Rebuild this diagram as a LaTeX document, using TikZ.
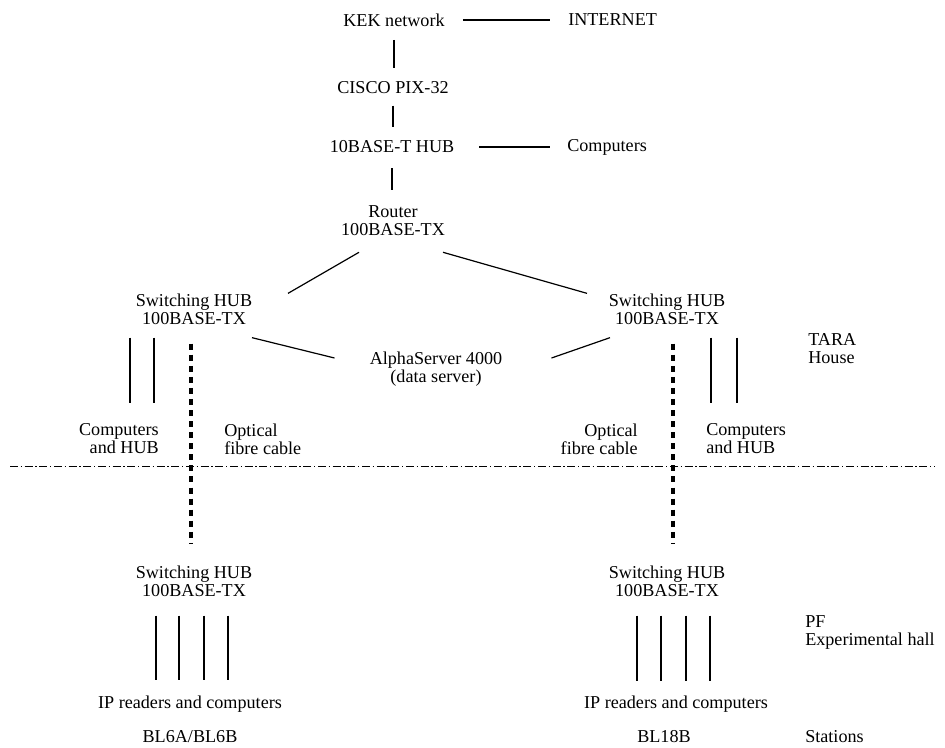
\documentclass[tikz,border=0pt]{standalone}
\usepackage{fontspec}
\setmainfont{Liberation Serif}
\usetikzlibrary{calc}
\tikzset{
  lbl/.style={inner sep=0pt,align=center,font=\fontsize{13.6}{13.5}\selectfont},
  wire/.style={line width=0.9pt},
  fibre/.style={line width=2.4pt,dash pattern=on 4.5pt off 3.8pt},
  border/.style={line width=0.6pt,dash pattern=on 6pt off 2pt on 1pt off 2pt}
}
\begin{document}
\begin{tikzpicture}[x=0.75pt,y=-0.75pt]
		\useasboundingbox (0,0) rectangle (945,747);
		% TARA House
		\node[lbl] (kek) at (394,20) {KEK network};
		\node[lbl,anchor=west] (inet) at (568,20) {INTERNET};
		\node[lbl] (cisco) at (393,88) {CISCO PIX-32};
		\node[lbl] (hubT) at (392,147) {10BASE-T HUB};
		\node[lbl,anchor=west] (comp) at (567,147) {Computers};
		\node[lbl] (router) at (393,221) {Router\\100BASE-TX};
		\node[lbl] (swL) at (194,309) {Switching HUB\\100BASE-TX};
		\node[lbl] (swR) at (667,309) {Switching HUB\\100BASE-TX};
		\node[lbl] (alpha) at (436,369) {AlphaServer 4000\\(data server)};
		\node[lbl,anchor=east,align=right] (compL) at (159,439) {Computers\\and HUB};
		\node[lbl,anchor=west,align=left] (optL) at (224,439) {Optical\\fibre cable};
		\node[lbl,anchor=east,align=right] (optR) at (638,439) {Optical\\fibre cable};
		\node[lbl,anchor=west,align=left] (compR) at (706,439) {Computers\\and HUB};
		\node[lbl,anchor=west,align=left] (tara) at (808,349) {TARA\\House};
		% PF experimental hall
		\node[lbl] (swLb) at (194,581) {Switching HUB\\100BASE-TX};
		\node[lbl] (swRb) at (667,581) {Switching HUB\\100BASE-TX};
		\node[lbl] (ipL) at (190,704) {IP readers and computers};
		\node[lbl] (ipR) at (676,704) {IP readers and computers};
		\node[lbl] (blL) at (190,737) {BL6A/BL6B};
		\node[lbl] (blR) at (664,737) {BL18B};
		\node[lbl,anchor=west,align=left] (pf) at (805,632) {PF\\Experimental hall};
		\node[lbl,anchor=west] (stat) at (805,737) {Stations};
		% links
		\draw[wire,shorten <=13.5pt,shorten >=13.5pt] (kek.east) -- (kek.east -| inet.west);
		\draw[wire,shorten <=18.5pt,shorten >=13pt] (hubT.east) -- (hubT.east -| comp.west);
		\draw[wire,shorten <=10pt,shorten >=10pt] (kek.south) -- (kek.south |- cisco.north);
		\draw[wire,shorten <=8.5pt,shorten >=10pt] (cisco.south) -- (cisco.south |- hubT.north);
		\draw[wire,shorten <=11pt,shorten >=12pt] (hubT.south) -- (hubT.south |- router.north);
		\draw[wire] ($(router.south)+(-34,16)$) -- ($(swL.north)+(94,0)$);
		\draw[wire] ($(router.south)+(50,16)$) -- ($(swR.north)+(-80,0)$);
		\draw[wire] ($(swL.south)+(58,13)$) -- ($(alpha.west)+(-35,-11)$);
		\draw[wire] ($(swR.south)+(-57,13)$) -- ($(alpha.east)+(49,-11)$);
		\foreach \dx in {-64,-40} \draw[wire] ($(swL.south)+(\dx,13)$) -- ++(0,65);
		\foreach \dx in {44,70} \draw[wire] ($(swR.south)+(\dx,13)$) -- ++(0,65);
		\draw[fibre] ($(swL.south)+(-3,19)$) -- ($(swLb.north)+(-3,-21)$);
		\draw[fibre] ($(swR.south)+(6,19)$) -- ($(swRb.north)+(6,-21)$);
		\foreach \dx in {-38,-15,10,34} \draw[wire] ($(swLb.south)+(\dx,19)$) -- ++(0,64);
		\foreach \dx in {-30,-6,19,43} \draw[wire] ($(swRb.south)+(\dx,19)$) -- ++(0,65);
		\draw[border] (10,466) -- (935,466);
\end{tikzpicture}
\end{document}
